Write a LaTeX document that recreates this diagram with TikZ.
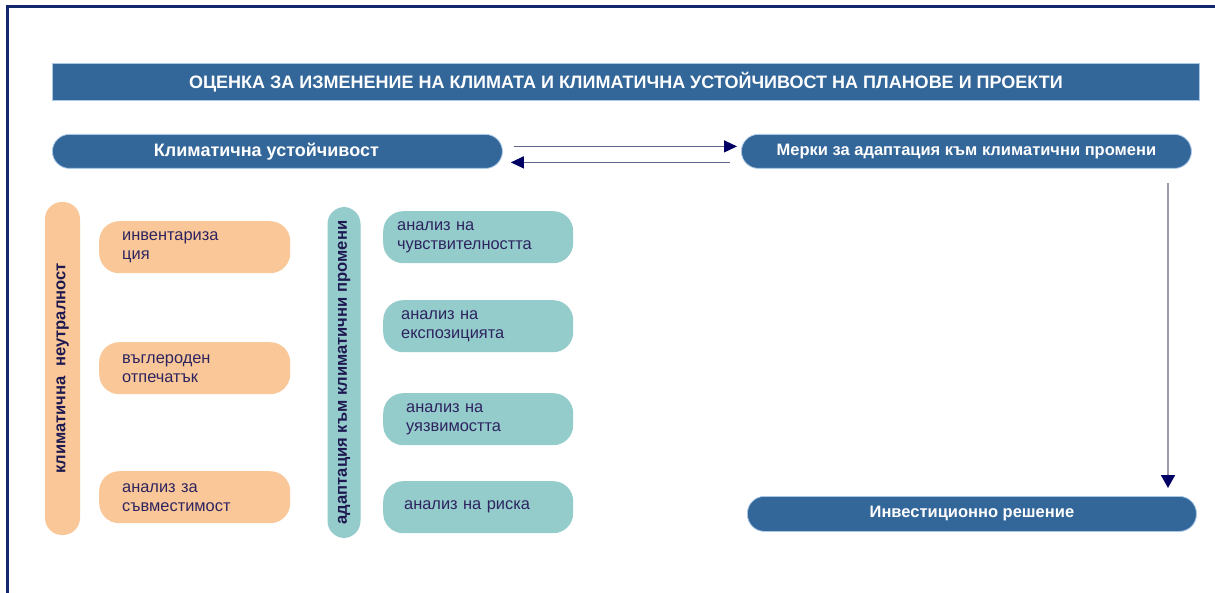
\documentclass[tikz,border=0pt]{standalone}
\usepackage{fontspec}
\setmainfont{Liberation Sans}
\usetikzlibrary{arrows.meta,calc}
\definecolor{hdr}{RGB}{51,102,153}
\definecolor{hdredge}{RGB}{170,200,230}
\definecolor{peach}{RGB}{250,200,152}
\definecolor{tealc}{RGB}{148,204,204}
\definecolor{txtd}{RGB}{45,35,95}
\definecolor{vtxt}{RGB}{30,25,80}
\definecolor{framec}{RGB}{20,40,110}
\definecolor{arrline}{RGB}{95,100,140}
\definecolor{arrhead}{RGB}{0,0,100}
\definecolor{varrline}{RGB}{155,155,170}
\begin{document}
\begin{tikzpicture}[x=1pt,y=-1pt,
  bluepill/.style={fill=hdr, draw=hdredge, line width=0.8pt, rounded corners=17pt,
    minimum height=34pt, text=white, font=\fontsize{16.5}{19}\selectfont\bfseries,
    inner sep=0pt, anchor=north west},
  header/.style={fill=hdr, draw=hdredge, line width=0.8pt, minimum height=37pt,
    minimum width=1147pt, text=white, font=\fontsize{18}{20}\selectfont\bfseries,
    inner sep=0pt, anchor=north west},
  vpill/.style={rounded corners=17pt, inner sep=0pt, rotate=90,
    text=vtxt, font=\fontsize{16.6}{19}\selectfont\bfseries},
  peachbox/.style={fill=peach, rounded corners=20pt, minimum height=52pt,
    anchor=north west, inner xsep=23pt, inner ysep=0pt, text width=145pt,
    align=left, text=txtd, font=\fontsize{16.4}{19}\selectfont},
  tealbox/.style={fill=tealc, rounded corners=20pt, minimum height=52pt,
    anchor=north west, inner ysep=0pt, align=left, text=txtd,
    font=\fontsize{16.4}{19}\selectfont},
  harr/.style={draw=arrline, line width=1.2pt,
    -{Triangle[length=13pt,width=12pt,color=arrhead]}},
  varr/.style={draw=varrline, line width=1.6pt,
    -{Triangle[length=13pt,width=14pt,color=arrhead]}}
]
\useasboundingbox (0,0) rectangle (1215,593);
\fill[white] (0,0) rectangle (1215,593);
% frame
\draw[framec, line width=2.2pt] (7.5,600) -- (7.5,6.5) -- (1220,6.5);

% header
\node[header] (hdr) at (52,63) {ОЦЕНКА ЗА ИЗМЕНЕНИЕ НА КЛИМАТА И КЛИМАТИЧНА УСТОЙЧИВОСТ НА ПЛАНОВЕ И ПРОЕКТИ};

% top pills
\node[bluepill, minimum width=450pt, font=\fontsize{18}{20}\selectfont\bfseries] (ks) at (52,134) {Климатична устойчивост\kern22pt};
\node[bluepill, minimum width=450pt] (mer) at (741,134) {Мерки за адаптация към климатични промени};
\node[bluepill, minimum width=449pt, minimum height=35pt] (inv) at (747,496) {Инвестиционно решение};

% arrows between top pills
\draw[harr, shorten <=11pt, shorten >=4pt] ([yshift=5pt]ks.east) -- ([yshift=5pt]mer.west);
\draw[harr, shorten <=11pt, shorten >=8pt] ([yshift=-11pt]mer.west) -- ([yshift=-11pt]ks.east);

% vertical arrow
\coordinate (vx) at (1168,0);
\draw[varr, shorten <=14pt, shorten >=8pt] (vx |- mer.south) -- (vx |- inv.north);

% left vertical pill
\node[vpill, fill=peach, minimum width=333pt, minimum height=35pt] (kn) at (62.5,368.5) {климатична\ \ неутралност};
% peach boxes
\node[peachbox] (p1) at (99,221) {инвентариза\\ция};
\node[peachbox] (p2) at (99,342) {въглероден\\отпечатък};
\node[peachbox] (p3) at (99,471) {анализ за\\съвместимост};

% teal vertical pill
\node[vpill, fill=tealc, minimum width=331pt, minimum height=33pt] (ad) at (344,372.5) {адаптация към климатични промени};
% teal boxes
\node[tealbox, inner xsep=14pt, text width=162pt] (t1) at (383,211) {анализ на\\чувствителността};
\node[tealbox, inner xsep=18pt, text width=154pt] (t2) at (383,300) {анализ на\\експозицията};
\node[tealbox, inner xsep=23pt, text width=144pt] (t3) at (383,393) {анализ на\\уязвимостта};
\node[tealbox, inner xsep=21pt, text width=148pt] (t4) at (383,481) {анализ на риска};
\end{tikzpicture}
\end{document}
